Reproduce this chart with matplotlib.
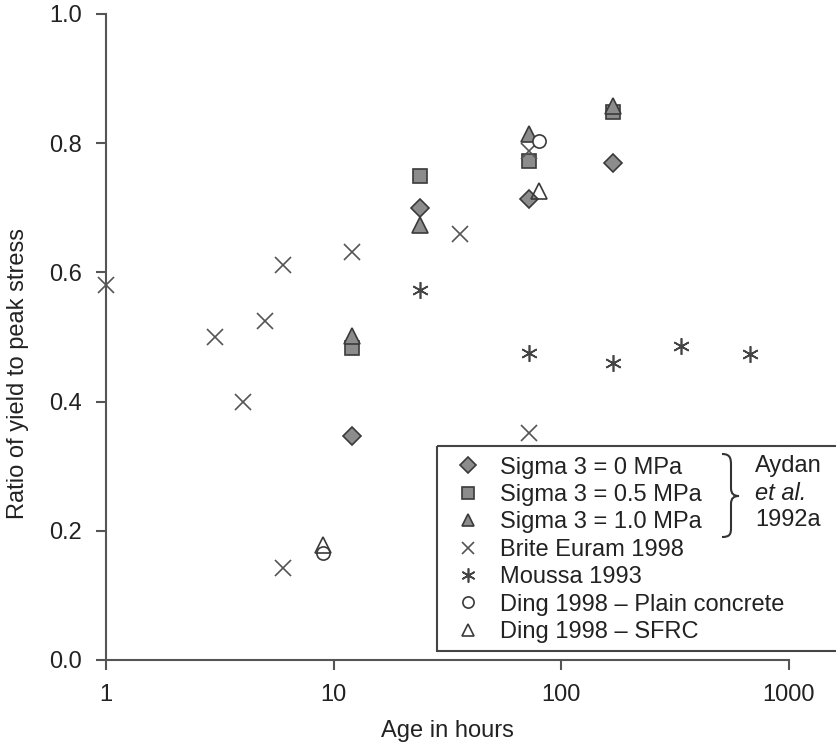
import matplotlib
matplotlib.use("Agg")
import matplotlib.pyplot as plt
from matplotlib.path import Path
from matplotlib.patches import PathPatch, Rectangle
from matplotlib.transforms import Affine2D

# ---- data ----
sigma0_x = [12, 24, 72, 168]
sigma0_y = [0.346, 0.700, 0.713, 0.770]
sigma05_x = [12, 24, 72, 168]
sigma05_y = [0.483, 0.749, 0.773, 0.848]
sigma10_x = [12, 24, 72, 168]
sigma10_y = [0.501, 0.673, 0.814, 0.858]
brite_x = [1, 3, 4, 5, 6, 6, 12, 36, 72, 72]
brite_y = [0.581, 0.500, 0.399, 0.525, 0.611, 0.142, 0.631, 0.660, 0.788, 0.352]
moussa_x = [24, 72, 168, 336, 672]
moussa_y = [0.573, 0.476, 0.459, 0.486, 0.473]
ding_plain_x = [9, 80]
ding_plain_y = [0.166, 0.803]
ding_sfrc_x = [9, 80]
ding_sfrc_y = [0.178, 0.726]

x_ticks = [1, 10, 100, 1000]
x_tick_labels = ["1", "10", "100", "1000"]
y_ticks = [0.0, 0.2, 0.4, 0.6, 0.8, 1.0]
labels = ["Sigma 3 = 0 MPa", "Sigma 3 = 0.5 MPa", "Sigma 3 = 1.0 MPa",
          "Brite Euram 1998", "Moussa 1993", "Ding 1998 \u2013 Plain concrete",
          "Ding 1998 \u2013 SFRC"]
group_text = ["Aydan", "et al.", "1992a"]

plt.rcParams['font.family'] = ['Liberation Sans', 'DejaVu Sans']
TXT = '#222222'
AX = '#555555'
FILL = '#8c8c8c'
EDGE = '#3a3a3a'
FS = 17

W, H = 837, 747
fig = plt.figure(figsize=(W / 100, H / 100), dpi=100)
ax = fig.add_axes([106 / W, (H - 660) / H, (789 - 106) / W, (660 - 14) / H])

common = dict(linestyle='none', clip_on=False)
h1, = ax.plot(sigma0_x, sigma0_y, marker='D', ms=9.5, mfc=FILL, mec=EDGE, mew=1.2, **common)
h2, = ax.plot(sigma05_x, sigma05_y, marker='s', ms=10, mfc=FILL, mec=EDGE, mew=1.2, **common)
h3, = ax.plot(sigma10_x, sigma10_y, marker='^', ms=11, mfc=FILL, mec=EDGE, mew=1.2, **common)
h4, = ax.plot(brite_x, brite_y, marker='x', ms=11, mec='#555555', mew=1.2, **common)
h5, = ax.plot(moussa_x, moussa_y, marker=(6, 2, 0), ms=12, mec='#444444', mew=1.2, **common)
h6, = ax.plot(ding_plain_x, ding_plain_y, marker='o', ms=9.5, mfc='white', mec=EDGE, mew=1.2, **common)
h7, = ax.plot(ding_sfrc_x, ding_sfrc_y, marker='^', ms=11, mfc='none', mec=EDGE, mew=1.2, **common)

ax.set_xscale('log')
ax.set_xlim(1, 1000)
ax.set_ylim(0, 1.0)
ax.set_xticks(x_ticks)
ax.set_xticklabels(x_tick_labels)
ax.xaxis.set_minor_locator(matplotlib.ticker.NullLocator())
ax.set_yticks(y_ticks)
ax.set_yticklabels([f"{v:.1f}" for v in y_ticks])

for s in ['top', 'right']:
    ax.spines[s].set_visible(False)
for s in ['left', 'bottom']:
    ax.spines[s].set_color(AX)
    ax.spines[s].set_linewidth(1.5)
ax.tick_params(direction='out', length=7, width=1.5, color=AX, labelsize=FS,
               labelcolor=TXT)
ax.tick_params(axis='y', pad=10.5)
ax.tick_params(axis='x', pad=10.5)

ax.set_xlabel("Age in hours", fontsize=FS, color=TXT, labelpad=10)
ax.set_ylabel("Ratio of yield to peak stress", fontsize=FS, color=TXT)
ax.yaxis.set_label_coords(29 / W, 0.5, transform=fig.transFigure)

# image-pixel transform (y downward)
pix = Affine2D().scale(1 / W, -1 / H).translate(0, 1) + fig.transFigure

# legend frame
fig.patches.append(Rectangle((437, 446), 420, 205, transform=pix, fill=False,
                             edgecolor='#444444', linewidth=1.5))

leg = ax.legend([h1, h2, h3, h4, h5, h6, h7], labels,
                loc='upper left', bbox_to_anchor=(456 / W, 1 - 456.5 / H),
                bbox_transform=fig.transFigure, frameon=False,
                fontsize=FS, borderpad=0, borderaxespad=0,
                handlelength=1.0, handletextpad=0.86, labelspacing=0.23,
                markerscale=0.85)
for t in leg.get_texts():
    t.set_color(TXT)

# brace
verts = [(722, 454), (730, 454), (731, 458), (731, 465),
         (731, 488),
         (731, 494), (734, 496), (739, 496),
         (734, 496), (731, 498), (731, 504),
         (731, 528),
         (731, 534), (730, 537), (722, 537)]
codes = [Path.MOVETO, Path.CURVE4, Path.CURVE4, Path.CURVE4,
         Path.LINETO,
         Path.CURVE4, Path.CURVE4, Path.CURVE4,
         Path.CURVE4, Path.CURVE4, Path.CURVE4,
         Path.LINETO,
         Path.CURVE4, Path.CURVE4, Path.CURVE4]
fig.patches.append(PathPatch(Path(verts, codes), transform=pix, fill=False,
                             edgecolor='#333333', linewidth=1.5))

rows_y = [466, 493, 520]
for txt, yy in zip(group_text, rows_y):
    fig.text(755 / W, 1 - yy / H, txt, fontsize=FS, color=TXT, va='center', ha='left',
             style='italic' if txt == 'et al.' else 'normal')

fig.savefig('out.png', dpi=100)
